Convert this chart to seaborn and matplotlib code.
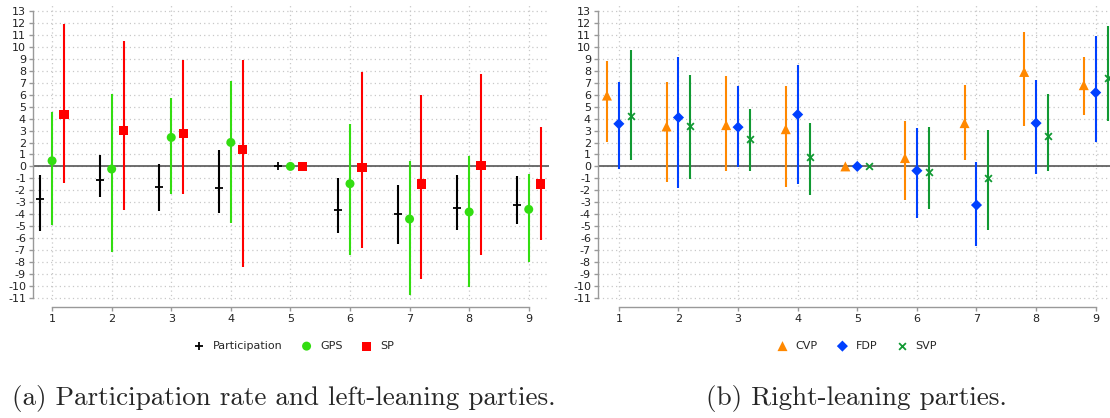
import numpy as np
import pandas as pd
import matplotlib.pyplot as plt
import seaborn as sns

# regions 1..9
regions = [1, 2, 3, 4, 5, 6, 7, 8, 9]

# left panel: participation rate and left-leaning parties
part_est = [-2.73, -1.14, -1.76, -1.84, 0.0, -3.68, -3.99, -3.49, -3.21]
part_lo = [-5.41, -2.57, -3.77, -3.90, 0.0, -5.61, -6.53, -5.36, -4.80]
part_hi = [-0.75, 0.92, 0.22, 1.37, 0.0, -0.98, -1.53, -0.70, -0.84]

gps_est = [0.47, -0.22, 2.43, 2.01, 0.0, -1.45, -4.41, -3.82, -3.60]
gps_lo = [-4.94, -7.14, -2.32, -4.77, 0.0, -7.45, -10.82, -10.10, -7.98]
gps_hi = [4.55, 6.05, 5.77, 7.14, 0.0, 3.57, 0.47, 0.89, -0.61]

sp_est = [4.38, 3.04, 2.76, 1.42, 0.0, -0.06, -1.48, 0.06, -1.48]
sp_lo = [-1.39, -3.68, -2.32, -8.45, 0.0, -6.83, -9.48, -7.45, -6.19]
sp_hi = [11.94, 10.52, 8.90, 8.90, 0.0, 7.92, 6.00, 7.75, 3.29]

# right panel: right-leaning parties
cvp_est = [5.94, 3.35, 3.46, 3.12, 0.0, 0.70, 3.63, 7.92, 6.81]
cvp_lo = [2.01, -1.34, -0.42, -1.73, 0.0, -2.79, 0.56, 3.40, 4.35]
cvp_hi = [8.87, 7.06, 7.56, 6.72, 0.0, 3.79, 6.81, 11.27, 9.18]

fdp_est = [3.57, 4.10, 3.29, 4.35, 0.0, -0.36, -3.24, 3.63, 6.19]
fdp_lo = [-0.20, -1.84, -0.06, -1.48, 0.0, -4.32, -6.64, -0.61, 2.04]
fdp_hi = [7.11, 9.18, 6.75, 8.54, 0.0, 3.24, 0.33, 7.28, 10.93]

svp_est = [4.24, 3.35, 2.29, 0.75, 0.0, -0.45, -1.00, 2.57, 7.45]
svp_lo = [0.50, -1.06, -0.36, -2.37, 0.0, -3.54, -5.36, -0.42, 3.79]
svp_hi = [9.76, 7.67, 4.83, 3.60, 0.0, 3.32, 3.04, 6.08, 11.77]

sns.set_style("white")
plt.rcParams['axes.unicode_minus'] = False
plt.rcParams['font.family'] = ['DejaVu Sans']

fig = plt.figure(figsize=(11.1, 4.18), dpi=100)
ax1 = fig.add_axes([33 / 1110, 118 / 418, 516 / 1110, 297 / 418])
ax2 = fig.add_axes([598 / 1110, 118 / 418, 512 / 1110, 297 / 418])


def draw_series(ax, est, lo, hi, offset, name, color, marker, size):
    df = pd.DataFrame({'x': np.array(regions) + offset, 'est': est, 'lo': lo, 'hi': hi})
    ax.vlines(df['x'], df['lo'], df['hi'], color=color, lw=1.5, zorder=2)
    if marker in ['+', 'x']:
        sns.scatterplot(data=df, x='x', y='est', marker=marker, color=color, s=size,
                        linewidth=1.3, label=name, ax=ax, zorder=3)
    else:
        sns.scatterplot(data=df, x='x', y='est', marker=marker, color=color, s=size,
                        edgecolor='none', linewidth=0, label=name, ax=ax, zorder=3)


def style_axes(ax, xlim):
    ax.set_xlim(*xlim)
    ax.set_ylim(-11.2, 13.7)
    ax.set_xticks(regions)
    ax.set_yticks(range(-11, 14))
    ax.set_xlabel('')
    ax.set_ylabel('')
    ax.grid(True, ls=(0, (1, 2.5)), color='#c8c8c8', lw=0.9)
    ax.axhline(0, color='#555555', lw=1.2, zorder=1)
    for s in ['top', 'right']:
        ax.spines[s].set_visible(False)
    ax.spines['left'].set_bounds(-11, 13)
    ax.spines['bottom'].set_bounds(1, 9)
    ax.spines['bottom'].set_position(('outward', 5))
    for s in ['left', 'bottom']:
        ax.spines[s].set_color('#999999')
        ax.spines[s].set_linewidth(1.0)
    ax.tick_params(axis='both', labelsize=8, length=3, width=1, color='#999999',
                   labelcolor='#222222', pad=2, left=True, bottom=True)
    ax.legend(loc='center', bbox_to_anchor=(0.5, -0.155), ncol=3, frameon=False,
              fontsize=8, handletextpad=0.2, columnspacing=1.2, borderaxespad=0)


draw_series(ax1, part_est, part_lo, part_hi, -0.2, 'Participation', 'black', '+', 26)
draw_series(ax1, gps_est, gps_lo, gps_hi, 0.0, 'GPS', '#33dd11', 'o', 42)
draw_series(ax1, sp_est, sp_lo, sp_hi, 0.2, 'SP', '#ff0000', 's', 44)
style_axes(ax1, (0.68, 9.34))

draw_series(ax2, cvp_est, cvp_lo, cvp_hi, -0.2, 'CVP', '#ff8800', '^', 52)
draw_series(ax2, fdp_est, fdp_lo, fdp_hi, 0.0, 'FDP', '#0040ff', 'D', 32)
draw_series(ax2, svp_est, svp_lo, svp_hi, 0.2, 'SVP', '#119933', 'x', 24)
style_axes(ax2, (0.65, 9.24))

fig.text(284 / 1110, 1 - 399 / 418, '(a) Participation rate and left-leaning parties.',
         ha='center', va='center', family='cmr10', fontsize=19.5)
fig.text(856 / 1110, 1 - 399 / 418, '(b) Right-leaning parties.',
         ha='center', va='center', family='cmr10', fontsize=19.5)

fig.savefig('out.png', dpi=100)
